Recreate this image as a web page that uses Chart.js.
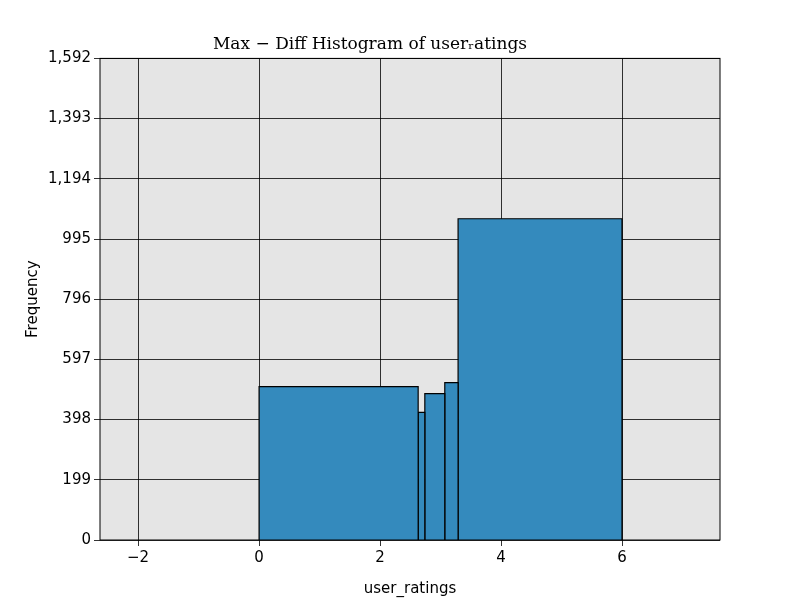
<!DOCTYPE html>
<html>
<head>
<script src="https://cdn.jsdelivr.net/npm/chart.js@4"></script>
<style>body{margin:0;background:#fff}</style>
</head>
<body>
<canvas id="histChart" width="800" height="600"></canvas>
<script>
// bin edges and counts
const binEdges = [0, 2.63, 2.74, 3.07, 3.29, 6];
const binCounts = [507, 422, 484, 520, 1062];
const xTicks = [-2, 0, 2, 4, 6];

const datasets = binCounts.map((c, i) => ({
  data: [
    {x: binEdges[i], y: 0}, {x: binEdges[i], y: c},
    {x: binEdges[i + 1], y: c}, {x: binEdges[i + 1], y: 0}
  ],
  borderColor: '#000',
  borderWidth: 1.2,
  backgroundColor: '#348abd',
  fill: 'origin',
  pointRadius: 0,
  tension: 0
}));

const frame = {
  id: 'frame',
  beforeDraw(chart) {
    const a = chart.chartArea, ctx = chart.ctx;
    ctx.save();
    ctx.fillStyle = '#e5e5e5';
    ctx.fillRect(a.left, a.top, a.right - a.left, a.bottom - a.top);
    ctx.restore();
  },
  afterDraw(chart) {
    const a = chart.chartArea, ctx = chart.ctx;
    ctx.save();
    ctx.strokeStyle = '#000';
    ctx.lineWidth = 1;
    ctx.strokeRect(a.left, a.top, a.right - a.left, a.bottom - a.top);
    ctx.restore();
  }
};

const grid = {color: '#000', lineWidth: 0.8, borderDash: [1, 3], drawTicks: true, tickLength: 6};

new Chart(document.getElementById('histChart').getContext('2d'), {
  type: 'line',
  data: {datasets: datasets},
  plugins: [frame],
  options: {
    responsive: false,
    animation: false,
    layout: {padding: {left: 20, right: 80, top: 0, bottom: 0}},
    plugins: {
      legend: {display: false},
      tooltip: {enabled: false},
      title: {
        display: true,
        text: 'Max \u2212 Diff Histogram of user\u1d63atings',
        color: '#000',
        font: {family: 'DejaVu Serif', size: 17, weight: 'normal'},
        padding: {top: 34, bottom: 4}
      }
    },
    scales: {
      x: {
        type: 'linear', min: -2.63, max: 7.62,
        afterFit: s => { s.height = 60; },
        afterBuildTicks: s => { s.ticks = xTicks.map(v => ({value: v})); },
        ticks: {color: '#000', font: {family: 'DejaVu Sans', size: 15}, callback: v => v < 0 ? '\u2212' + (-v) : v},
        grid: grid,
        border: {display: false},
        title: {display: true, text: 'user_ratings', color: '#000', font: {family: 'DejaVu Sans', size: 15}, padding: 2}
      },
      y: {
        min: 0, max: 1592,
        afterFit: s => { s.width = 80; },
        ticks: {stepSize: 200, includeBounds: false, color: '#000', font: {family: 'DejaVu Sans', size: 15}},
        grid: grid,
        border: {display: false},
        title: {display: true, text: 'Frequency', color: '#000', font: {family: 'DejaVu Sans', size: 15}, padding: 4}
      }
    }
  }
});
</script>
</body>
</html>
